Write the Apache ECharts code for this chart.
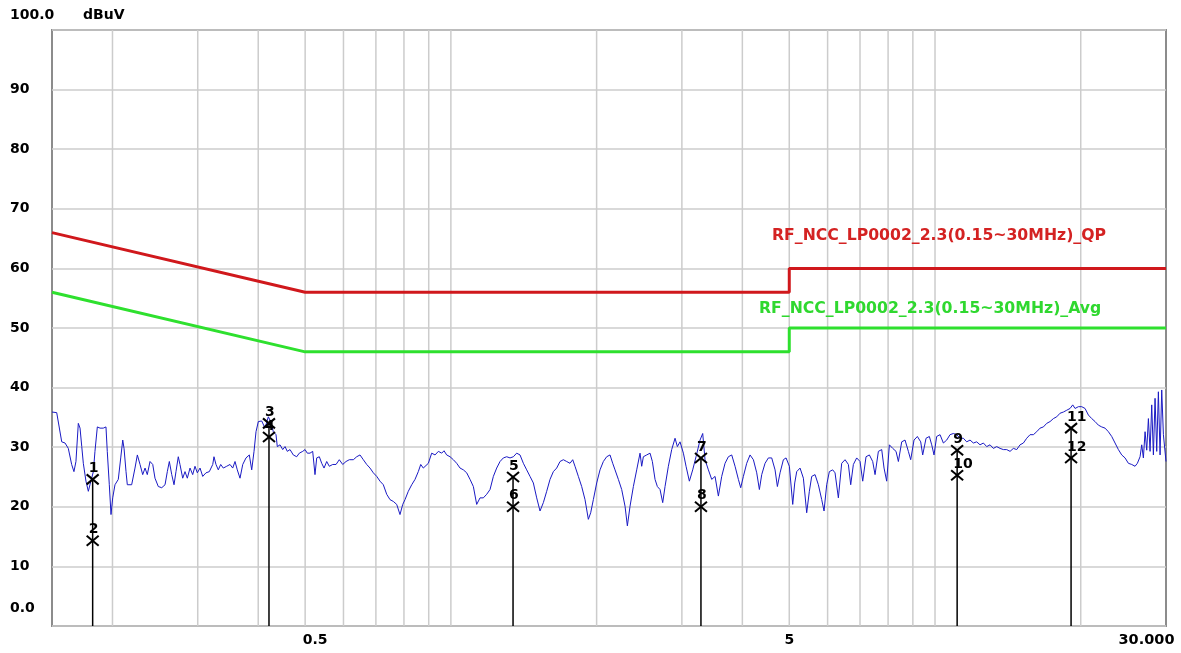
<!DOCTYPE html>
<html>
<head>
<meta charset="utf-8">
<script src="https://cdn.jsdelivr.net/npm/echarts@6/dist/echarts.min.js"></script>
<style>
  html, body { margin: 0; background: #fff; }
  #main { width: 1181px; height: 653px; }
</style>
</head>
<body>
<div id="main"></div>
<script>
// measured spectrum, frequency in MHz / level in dBuV
const traceFreq = [
  0.150, 0.1534, 0.1571, 0.1596, 0.1621, 0.1647, 0.1665, 0.1681, 0.1700, 0.1714,
  0.1728, 0.1741, 0.1763, 0.1783, 0.1797, 0.1826, 0.1840, 0.1861, 0.1885, 0.1914,
  0.1939, 0.1951, 0.1970, 0.1986, 0.2002, 0.2024, 0.2056, 0.2080, 0.2100, 0.2113,
  0.2133, 0.2146, 0.2191, 0.2226, 0.2251, 0.2280, 0.2309, 0.2335, 0.2360, 0.2391,
  0.2422, 0.2448, 0.2487, 0.2528, 0.2568, 0.2596, 0.2621, 0.2651, 0.2680, 0.2705,
  0.2735, 0.2757, 0.2793, 0.2824, 0.2855, 0.2892, 0.2929, 0.2961, 0.2994, 0.3033,
  0.3072, 0.3120, 0.3170, 0.3222, 0.3241, 0.3272, 0.3308, 0.3346, 0.3388, 0.3443,
  0.3498, 0.3543, 0.3582, 0.3621, 0.3668, 0.3716, 0.3774, 0.3834, 0.3878, 0.3921,
  0.3958, 0.4002, 0.4067, 0.4131, 0.4197, 0.4245, 0.4298, 0.4353, 0.4380, 0.4437,
  0.4494, 0.4544, 0.4593, 0.4653, 0.4726, 0.4803, 0.4863, 0.4943, 0.4997, 0.5052,
  0.5117, 0.5183, 0.5240, 0.5283, 0.5349, 0.5410, 0.5470, 0.5540, 0.5609, 0.5701,
  0.5791, 0.5882, 0.5978, 0.6073, 0.6169, 0.6288, 0.6390, 0.6491, 0.6594, 0.6701,
  0.6807, 0.6915, 0.7028, 0.7139, 0.7252, 0.7370, 0.7487, 0.7605, 0.7729, 0.7851,
  0.7953, 0.8040, 0.8167, 0.8301, 0.8432, 0.8565, 0.8664, 0.8771,
  0.8984, 0.9128, 0.9274, 0.9422, 0.9573, 0.9679, 0.9802, 0.9960, 1.0118, 1.0280,
  1.0445, 1.0612, 1.0781, 1.0954, 1.1129, 1.1306, 1.1487, 1.1670, 1.1857, 1.2047,
  1.2239, 1.2434, 1.2634, 1.2835, 1.3041, 1.3249, 1.3460, 1.3675, 1.3894, 1.4116,
  1.4341, 1.4571, 1.4803, 1.5040, 1.5280, 1.5524, 1.5773, 1.6025, 1.6280, 1.6540,
  1.6805, 1.7073, 1.7346, 1.7623, 1.7849, 1.8047, 1.8336, 1.8629, 1.8927, 1.9229,
  1.9444, 1.9692, 2.0007, 2.0327, 2.0651, 2.0981, 2.1317, 2.1589, 2.1830, 2.2179,
  2.2534, 2.2894, 2.3150, 2.3445, 2.3820, 2.4201, 2.4587, 2.4783, 2.4980, 2.5379,
  2.5785, 2.6073, 2.6406, 2.6700, 2.7041, 2.7387, 2.7692, 2.8135, 2.8584, 2.9041,
  2.9365, 2.9741, 3.0216, 3.0602, 3.1090, 3.1587, 3.2092, 3.2709, 3.3126, 3.3496,
  3.4032, 3.4575, 3.5128, 3.5689, 3.6260, 3.6840, 3.7428, 3.8026, 3.8634, 3.9251,
  3.9689, 4.0196, 4.0838, 4.1491, 4.2154, 4.2828, 4.3375, 4.3859, 4.4560, 4.5272,
  4.5995, 4.6730, 4.7252, 4.7855, 4.8620, 4.9241, 5.0028, 5.0827, 5.1313,
  5.180, 5.263, 5.347, 5.432, 5.501, 5.563, 5.652, 5.742, 5.834, 5.899,
  5.974, 6.050, 6.147, 6.216, 6.315, 6.416, 6.519, 6.623, 6.697, 6.782,
  6.890, 7.001, 7.090, 7.203, 7.319, 7.435, 7.519, 7.639, 7.761, 7.847,
  7.947, 8.049, 8.178, 8.308, 8.401, 8.535, 8.671, 8.810, 8.908, 9.051,
  9.195, 9.342, 9.431, 9.582, 9.735, 9.844, 9.953, 10.080, 10.242, 10.406,
  10.572, 10.741, 10.912, 11.086, 11.264, 11.444, 11.627, 11.813, 12.001, 12.193,
  12.388, 12.586, 12.788, 12.992, 13.200, 13.410, 13.625, 13.842, 14.064, 14.289,
  14.517, 14.749, 14.984, 15.224, 15.467, 15.715, 15.966, 16.221, 16.480, 16.744,
  17.011, 17.283, 17.560, 17.840, 18.125, 18.415, 18.709, 19.008, 19.251, 19.466,
  19.777, 20.093, 20.414, 20.740, 21.072, 21.409, 21.750, 22.098, 22.451, 22.810,
  23.175, 23.544, 23.920, 24.303, 24.691, 25.085, 25.488, 25.895, 26.183, 26.517,
  26.730, 26.940, 27.157, 27.373, 27.590, 27.811, 28.031, 28.255, 28.479, 28.706,
  28.933, 29.165, 29.396, 29.630, 30.000
];
const traceLevel = [
  35.9, 35.8, 30.9, 30.7, 29.8, 27.1, 25.9, 27.6, 34.0, 33.2,
  30.1, 27.3, 24.3, 22.6, 23.7, 25.9, 29.3, 33.4, 33.2, 33.2,
  33.4, 29.3, 23.7, 18.7, 21.5, 23.7, 24.6, 28.2, 31.2, 29.8,
  25.9, 23.7, 23.7, 26.5, 28.7, 27.1, 25.4, 26.5, 25.4, 27.6,
  27.1, 24.8, 23.4, 23.2, 23.7, 25.9, 27.6, 25.4, 23.7, 25.9,
  28.4, 27.1, 24.8, 25.9, 24.8, 26.5, 25.4, 26.8, 25.7, 26.5,
  25.1, 25.7, 25.9, 27.1, 28.4, 27.1, 26.2, 27.1, 26.5, 26.8,
  27.1, 26.5, 27.6, 26.2, 24.8, 27.1, 28.2, 28.7, 26.2, 29.3,
  32.6, 34.3, 34.4, 33.2, 35.1, 34.3, 32.6, 32.1, 30.1, 30.4,
  29.6, 30.1, 29.3, 29.6, 28.7, 28.4, 29.0, 29.3, 29.6, 29.0,
  29.0, 29.3, 25.4, 28.2, 28.4, 27.3, 26.5, 27.6, 26.8, 27.1,
  27.1, 27.9, 27.1, 27.6, 27.9, 27.9, 28.4, 28.7, 27.9, 27.1,
  26.5, 25.7, 25.1, 24.3, 23.7, 22.1, 21.2, 20.9, 20.4, 18.7,
  20.4, 21.2, 22.6, 23.7, 24.6, 25.9, 27.1, 26.5,
  27.3, 29.0, 28.7, 29.3, 29.0, 29.4, 28.7, 28.4, 27.9, 27.3,
  26.5, 26.2, 25.7, 24.6, 23.4, 20.4, 21.5, 21.5, 22.1, 22.9,
  25.1, 26.5, 27.6, 28.2, 28.4, 28.2, 28.4, 29.0, 28.7, 27.3,
  26.2, 25.1, 24.0, 21.5, 19.3, 20.7, 22.6, 24.6, 25.9, 26.5,
  27.6, 27.9, 27.6, 27.3, 27.9, 26.8, 25.1, 23.4, 21.2, 17.9,
  19.0, 21.2, 24.0, 26.2, 27.6, 28.4, 28.7, 27.3, 26.2, 24.6,
  22.9, 20.1, 16.8, 20.1, 23.4, 26.2, 29.0, 26.8, 28.4, 28.7,
  29.0, 27.6, 24.6, 23.4, 22.9, 20.7, 23.4, 26.8, 29.6, 31.5,
  30.1, 30.9, 29.0, 26.8, 24.3, 26.2, 28.4, 31.2, 32.3, 27.9,
  26.2, 24.6, 25.1, 21.8, 25.1, 27.3, 28.4, 28.7, 26.8, 24.6,
  23.2, 25.1, 27.3, 28.7, 27.9, 25.7, 22.9, 25.4, 27.3, 28.2,
  28.2, 26.2, 23.4, 25.7, 27.9, 28.2, 26.8, 20.4, 24.0,
  25.9, 26.5, 24.8, 19.0, 22.6, 25.1, 25.4, 23.7, 21.2, 19.3,
  23.7, 25.9, 26.2, 25.7, 21.5, 27.3, 27.9, 27.1, 23.7, 27.1,
  28.2, 27.6, 24.3, 28.4, 28.7, 27.6, 25.4, 29.3, 29.6, 26.5,
  24.3, 30.4, 29.8, 29.3, 27.6, 30.9, 31.2, 29.3, 27.9, 31.2,
  31.8, 30.9, 28.7, 31.5, 31.8, 30.4, 28.7, 31.8, 32.1, 30.7,
  31.2, 32.1, 32.3, 32.1, 31.5, 31.5, 30.9, 31.2, 30.7, 30.9,
  30.4, 30.7, 30.1, 30.4, 29.8, 30.1, 29.8, 29.6, 29.6, 29.3,
  29.8, 29.6, 30.4, 30.7, 31.5, 32.1, 32.1, 32.6, 33.2, 33.4,
  34.0, 34.3, 34.8, 35.1, 35.7, 35.9, 36.2, 36.5, 37.1, 36.5,
  36.8, 36.8, 36.5, 35.4, 34.8, 34.3, 33.7, 33.4, 33.2, 32.6,
  31.8, 30.7, 29.6, 28.7, 28.2, 27.3, 27.1, 26.8, 27.3, 28.4,
  30.4, 28.2, 32.6, 29.5, 34.8, 29.3, 37.1, 28.7, 38.2, 29.3,
  39.3, 28.7, 39.6, 32.1, 27.6
];

// limit lines
const limitFreq = [0.15, 0.5, 5, 5, 30];
const qpLimit = [66, 56, 56, 60, 60];
const avgLimit = [56, 46, 46, 50, 50];
const qpName = 'RF_NCC_LP0002_2.3(0.15~30MHz)_QP';
const avgName = 'RF_NCC_LP0002_2.3(0.15~30MHz)_Avg';

// marker pairs (QP odd number, AVG even number)
const markerFreq = [0.182, 0.421, 1.344, 3.285, 11.11, 19.1];
const markerQP = [24.6, 34.0, 25.0, 28.2, 29.5, 33.2];
const markerAvg = [14.3, 31.7, 20.0, 20.0, 25.3, 28.2];

// vertical grid and tick labels
const gridFreq = [0.2, 0.3, 0.4, 0.5, 0.6, 0.7, 0.8, 0.9, 1, 2, 3, 4, 5, 6, 7, 8, 9, 10, 20];
const xTickLabels = [0.5, 5, 30];

const FONT = 'DejaVu Sans';
const zip = (xs, ys) => xs.map((x, i) => [x, ys[i]]);

const chart = echarts.init(document.getElementById('main'));

chart.setOption({
  animation: false,
  backgroundColor: '#fff',
  grid: {
    left: 52, right: 15, top: 30, bottom: 27,
    outerBoundsMode: 'none', containLabel: false,
    show: true, borderColor: '#8c8c8c', borderWidth: 2
  },
  xAxis: {
    type: 'log', logBase: 10, min: 0.15, max: 30,
    name: '(MHz)', nameLocation: 'middle', nameGap: 7,
    nameTextStyle: { fontFamily: FONT, fontWeight: 'bold', fontSize: 14, color: '#000',
      verticalAlign: 'top', padding: [0, 40, 0, 0] },
    axisLine: { show: false },
    axisTick: { show: false },
    splitLine: { show: false },
    axisLabel: {
      customValues: xTickLabels,
      margin: 7,
      color: '#000', fontFamily: FONT, fontWeight: 'bold', fontSize: 14,
      formatter: v => v >= 30 ? '{r|30.000}' : v === 0.5 ? '{a|0.5}' : String(v),
      rich: {
        a: { fontFamily: FONT, fontWeight: 'bold', fontSize: 14, color: '#000', padding: [0, 0, 0, 20] },
        r: { fontFamily: FONT, fontWeight: 'bold', fontSize: 14.5, color: '#000', padding: [0, 39, 0, 0] }
      }
    }
  },
  yAxis: {
    type: 'value', min: 0, max: 100, interval: 10,
    name: 'dBuV', nameLocation: 'end', nameGap: 15,
    nameTextStyle: { fontFamily: FONT, fontWeight: 'bold', fontSize: 14, color: '#000',
      align: 'left', verticalAlign: 'middle', padding: [0, 0, 0, 31] },
    axisLine: { show: false },
    axisTick: { show: false },
    splitLine: { lineStyle: { color: '#cccccc', width: 1.5 } },
    axisLabel: {
      align: 'left', margin: 42,
      color: '#000', fontFamily: FONT, fontWeight: 'bold', fontSize: 14,
      formatter: v => v === 0 ? '{lo|0.0}' : v === 100 ? '{hi|100.0}' : String(v),
      rich: {
        lo: { fontFamily: FONT, fontWeight: 'bold', fontSize: 14, color: '#000', padding: [0, 0, 36, 0] },
        hi: { fontFamily: FONT, fontWeight: 'bold', fontSize: 14, color: '#000', padding: [0, 0, 30, 0] }
      }
    }
  },
  graphic: [
    { type: 'text', x: 772, y: 236, z: 10,
      style: { text: qpName, fill: '#d42222', font: 'bold 15.7px ' + FONT, align: 'left', verticalAlign: 'middle' } },
    { type: 'text', x: 759, y: 309, z: 10,
      style: { text: avgName, fill: '#2fd82f', font: 'bold 15.7px ' + FONT, align: 'left', verticalAlign: 'middle' } }
  ],
  series: [
    {
      // vertical log grid lines
      type: 'custom', silent: true, z: 1,
      data: gridFreq.map(f => [f, 0]),
      encode: { x: 0, y: 1 },
      renderItem: (params, api) => {
        const f = api.value(0);
        const t = api.coord([f, 100]);
        const b = api.coord([f, 0]);
        return { type: 'line', shape: { x1: t[0], y1: t[1], x2: b[0], y2: b[1] },
          style: { stroke: '#cccccc', lineWidth: 1.5 } };
      }
    },
    {
      name: qpName, type: 'line', z: 3, symbol: 'none',
      data: zip(limitFreq, qpLimit),
      lineStyle: { color: '#d0181c', width: 3 }
    },
    {
      name: avgName, type: 'line', z: 3, symbol: 'none',
      data: zip(limitFreq, avgLimit),
      lineStyle: { color: '#2ee02e', width: 3 }
    },
    {
      name: 'trace', type: 'line', z: 4, symbol: 'none',
      data: zip(traceFreq, traceLevel),
      lineStyle: { color: '#1a1ac4', width: 1 }
    },
    {
      // markers: line to floor, X symbols and numbers
      type: 'custom', z: 6, silent: true,
      data: markerFreq.map((f, i) => [f, markerQP[i], markerAvg[i], i]),
      encode: { x: 0, y: [1, 2] },
      renderItem: (params, api) => {
        const f = api.value(0);
        const pq = api.coord([f, api.value(1)]);
        const pa = api.coord([f, api.value(2)]);
        const p0 = api.coord([f, 0]);
        const n = api.value(3);
        const cross = p => [
          { type: 'line', shape: { x1: p[0] - 6, y1: p[1] - 5, x2: p[0] + 6, y2: p[1] + 5 },
            style: { stroke: '#000', lineWidth: 2 } },
          { type: 'line', shape: { x1: p[0] - 6, y1: p[1] + 5, x2: p[0] + 6, y2: p[1] - 5 },
            style: { stroke: '#000', lineWidth: 2 } }
        ];
        const num = (p, t) => ({
          type: 'text',
          style: { text: String(t), x: p[0] - 4, y: p[1] - 4, align: 'left', verticalAlign: 'bottom',
            font: 'bold 14px ' + FONT, fill: '#000' }
        });
        return {
          type: 'group',
          children: [
            { type: 'line', shape: { x1: pq[0], y1: pq[1], x2: p0[0], y2: p0[1] },
              style: { stroke: '#000', lineWidth: 1.5 } },
            ...cross(pq), ...cross(pa),
            num(pq, 2 * n + 1), num(pa, 2 * n + 2)
          ]
        };
      }
    }
  ]
});
</script>
</body>
</html>
